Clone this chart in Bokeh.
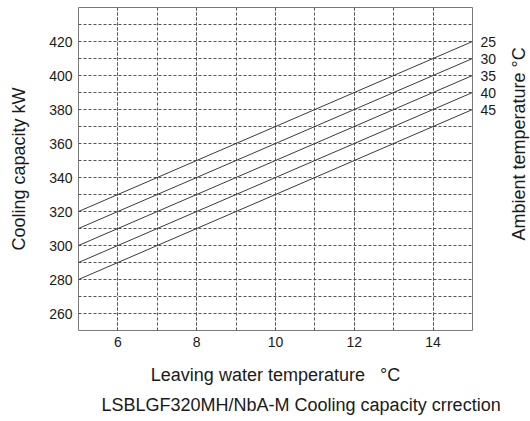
from bokeh.plotting import figure
from bokeh.layouts import row
from bokeh.models import FixedTicker, LinearAxis, Range1d, Title
from bokeh.embed import file_html
from bokeh.resources import INLINE

# ---- data ----
ambient_labels = ["25", "30", "35", "40", "45"]
leaving_water_t = [5, 15]
cap_25 = [320, 420]
cap_30 = [310, 410]
cap_35 = [300, 400]
cap_40 = [290, 390]
cap_45 = [280, 380]
x_ticks = [6, 8, 10, 12, 14]
x_grid = [5, 6, 7, 8, 9, 10, 11, 12, 13, 14, 15]
y_ticks = [260, 280, 300, 320, 340, 360, 380, 400, 420]
y_grid = [250, 270, 290, 310, 330, 350, 370, 390, 410, 430, 440]

FONT = "Liberation Sans"
TXT = "#1a1a1a"
LINE = "#3a3a3a"
GRID = "#555555"

p = figure(width=500, height=421, output_backend="svg", toolbar_location=None,
           x_range=Range1d(5, 15), y_range=Range1d(250, 440),
           min_border_left=78, min_border_right=28, min_border_top=7,
           min_border_bottom=91)
p.background_fill_color = "white"
p.border_fill_color = "white"
p.outline_line_color = "#7a7a7a"
p.outline_line_width = 1

series = [cap_25, cap_30, cap_35, cap_40, cap_45]
for ys in series:
    p.line(leaving_water_t, ys, line_color=LINE, line_width=1)

# right axis carrying the ambient temperature labels at the line ends
right = LinearAxis()
p.add_layout(right, "right")
right.ticker = FixedTicker(ticks=[s[-1] for s in series])
right.major_label_overrides = {s[-1]: lab for s, lab in zip(series, ambient_labels)}

p.xaxis.ticker = FixedTicker(ticks=x_ticks, minor_ticks=x_grid)
p.yaxis[0].ticker = FixedTicker(ticks=y_ticks, minor_ticks=y_grid)
for ax in (p.xaxis[0], p.yaxis[0], right):
    ax.axis_line_color = None
    ax.major_tick_line_color = None
    ax.minor_tick_line_color = None
    ax.major_tick_out = 0
    ax.major_tick_in = 0
    ax.minor_tick_out = 0
    ax.minor_tick_in = 0
    ax.major_label_text_font = FONT
    ax.major_label_text_font_size = "14px"
    ax.major_label_text_color = TXT
    ax.major_label_standoff = 6
    ax.axis_label_text_font = FONT
    ax.axis_label_text_font_size = "18px"
    ax.axis_label_text_font_style = "normal"
    ax.axis_label_text_color = TXT

right.major_label_standoff = 8

p.yaxis[0].axis_label = "Cooling capacity kW"
p.yaxis[0].axis_label_standoff = 17
p.xaxis.axis_label = "Leaving water temperature\u00a0\u00a0\u00a0°C"
p.xaxis.axis_label_standoff = 15

for g in (p.xgrid[0], p.ygrid[0]):
    g.grid_line_color = GRID
    g.grid_line_dash = "3 2"
    g.grid_line_width = 1
    g.minor_grid_line_color = GRID
    g.minor_grid_line_dash = "3 2"
    g.minor_grid_line_width = 1

caption = Title(text="LSBLGF320MH/NbA-M Cooling capacity crrection",
                align="left", offset=23, standoff=10,
                text_font=FONT, text_font_size="18px",
                text_font_style="normal", text_color=TXT)
p.add_layout(caption, "below")

# narrow companion figure holding the right-hand (upward reading) title
side = figure(width=30, height=421, output_backend="svg", toolbar_location=None,
              x_range=Range1d(0, 1), y_range=Range1d(250, 440),
              min_border_left=28, min_border_right=0, min_border_top=7,
              min_border_bottom=91)
side.xaxis.visible = False
side.yaxis.visible = False
side.xgrid.visible = False
side.ygrid.visible = False
side.outline_line_color = None
side.background_fill_color = "white"
side.border_fill_color = "white"
side_title = Title(text="Ambient temperature °C", align="left", offset=90,
                   standoff=0, text_font=FONT, text_font_size="18px",
                   text_font_style="normal", text_color=TXT)
side.add_layout(side_title, "left")

layout = row(p, side, spacing=0)
open("out.html", "w").write(file_html(layout, INLINE))
